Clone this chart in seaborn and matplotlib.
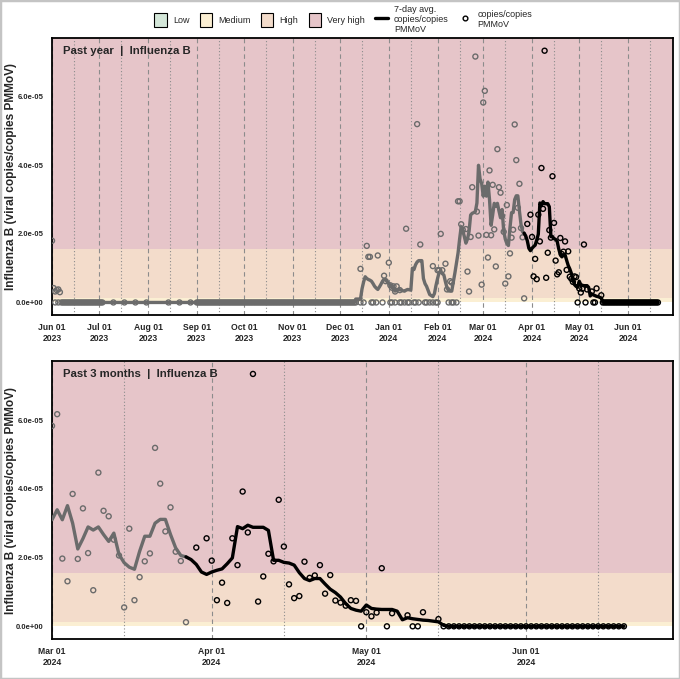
import matplotlib
matplotlib.use("Agg")
import matplotlib.pyplot as plt
import matplotlib.dates as mdates
from matplotlib.patches import Patch, Rectangle
from matplotlib.lines import Line2D
from matplotlib.ticker import FuncFormatter
import numpy as np
import pandas as pd
import seaborn as sns

sns.set_style("white")
plt.rcParams["font.family"] = ["Liberation Sans", "DejaVu Sans"]

# ---- data (values in 1e-5 copies/copies PMMoV) ----
# sampling periods where every sample read as zero
zero_spans = [("2023-06-07", "2023-07-03"),
              ("2023-09-01", "2023-12-11"),
              ("2024-05-16", "2024-06-20")]
zero_dates = ["2023-06-03", "2023-06-05",
              "2023-07-10", "2023-07-17", "2023-07-24", "2023-07-31",
              "2023-08-14", "2023-08-21", "2023-08-28",
              "2023-12-14", "2023-12-16", "2023-12-21", "2023-12-22", "2023-12-24",
              "2023-12-28", "2024-01-02", "2024-01-03", "2024-01-05", "2024-01-08",
              "2024-01-09", "2024-01-11", "2024-01-13", "2024-01-14", "2024-01-17",
              "2024-01-18", "2024-01-20", "2024-01-24", "2024-01-25", "2024-01-27",
              "2024-01-29", "2024-01-31", "2024-02-01", "2024-02-08", "2024-02-10",
              "2024-02-11", "2024-02-13",
              "2024-04-30", "2024-05-05", "2024-05-10", "2024-05-11"]

sample_dates = ["2023-06-01", "2023-06-02", "2023-06-03", "2023-06-04", "2023-06-05", "2023-06-06",
                "2023-12-14", "2023-12-18", "2023-12-19", "2023-12-20", "2023-12-25", "2023-12-29",
                "2023-12-30", "2024-01-01", "2024-01-02", "2024-01-03", "2024-01-04", "2024-01-05",
                "2024-01-06", "2024-01-08", "2024-01-12", "2024-01-19", "2024-01-21", "2024-01-29",
                "2024-02-01", "2024-02-02", "2024-02-03", "2024-02-04", "2024-02-06", "2024-02-07",
                "2024-02-09", "2024-02-10", "2024-02-14", "2024-02-15", "2024-02-16", "2024-02-17",
                "2024-02-19", "2024-02-20", "2024-02-21", "2024-02-22", "2024-02-23", "2024-02-25",
                "2024-02-26", "2024-02-27", "2024-02-29",
                "2024-03-01", "2024-03-02", "2024-03-03", "2024-03-04", "2024-03-05", "2024-03-06",
                "2024-03-07", "2024-03-08", "2024-03-09", "2024-03-10", "2024-03-11", "2024-03-12",
                "2024-03-13", "2024-03-14", "2024-03-15", "2024-03-16", "2024-03-17", "2024-03-18",
                "2024-03-19", "2024-03-20", "2024-03-21", "2024-03-22", "2024-03-23", "2024-03-24",
                "2024-03-25", "2024-03-26", "2024-03-27", "2024-03-29", "2024-03-31",
                "2024-04-01", "2024-04-02", "2024-04-03", "2024-04-04", "2024-04-05", "2024-04-06",
                "2024-04-07", "2024-04-08", "2024-04-09", "2024-04-10", "2024-04-11", "2024-04-12",
                "2024-04-13", "2024-04-14", "2024-04-15", "2024-04-16", "2024-04-17", "2024-04-18",
                "2024-04-19", "2024-04-20", "2024-04-21", "2024-04-22", "2024-04-23", "2024-04-24",
                "2024-04-25", "2024-04-26", "2024-04-27", "2024-04-28", "2024-04-29",
                "2024-05-01", "2024-05-02", "2024-05-03", "2024-05-04", "2024-05-06", "2024-05-09",
                "2024-05-12", "2024-05-15"]
sample_values = [1.8, 0.42, 0.32, 0.36, 0.38, 0.3,
                 0.98, 1.65, 1.33, 1.33, 1.37, 0.78,
                 0.62, 1.16, 0.5, 0.43, 0.47, 0.32,
                 0.47, 0.36, 2.15, 5.2, 1.69, 1.06,
                 0.94, 0.94, 2.0, 0.94, 1.13, 0.38,
                 0.62, 0.58, 2.95, 2.95, 2.28, 2.12,
                 2.14, 0.9, 0.32, 1.91, 3.36, 7.17,
                 2.65, 1.95, 0.52,
                 5.83, 6.17, 1.97, 1.31, 3.85, 1.96,
                 3.43, 2.13, 1.05, 4.47, 3.36, 3.2,
                 2.52, 2.06, 0.55, 2.84, 0.76, 1.43,
                 1.89, 2.12, 5.19, 4.15, 2.76, 3.46,
                 2.17, 1.9, 0.12, 2.29, 2.56,
                 1.91, 0.76, 1.27, 0.68, 2.56, 1.78,
                 3.92, 2.73, 7.34, 0.72, 1.45, 2.11,
                 1.89, 3.68, 2.32, 1.22, 0.82, 0.88,
                 1.88, 1.41, 1.48, 1.78, 0.95, 1.49,
                 0.75, 0.69, 0.6, 0.76, 0.74,
                 0.41, 0.29, 0.4, 1.69, 0.38, 0.32,
                 0.41, 0.21]

# 7-day average: flat zero until 2023-12-10, then daily from 2023-12-11
avg_flat_dates = ["2023-06-07", "2023-12-10"]
avg_start = "2023-12-11"
avg_values = [0.1, 0.1, 0.1, 0.1, 0.4, 0.6, 0.75, 0.7, 0.67, 0.65, 0.62, 0.55, 0.47, 0.42,
              0.38, 0.45, 0.53, 0.62, 0.68, 0.66, 0.6,
              0.55, 0.5, 0.45, 0.38, 0.33, 0.36, 0.38, 0.37, 0.36, 0.34, 0.33, 0.36, 0.38, 0.37,
              0.36, 1.0, 0.96, 1.1, 1.18, 1.22, 1.22, 1.22, 0.7, 0.55, 0.47, 0.35, 0.23, 0.2,
              0.17, 0.26, 0.5,
              0.7, 0.88, 0.91, 0.84, 0.8, 0.6, 0.43, 0.34, 0.33, 0.33, 0.6, 0.86, 1.15, 1.44,
              1.85, 2.21, 2.1, 1.92, 1.73, 1.85, 2.07, 2.55, 2.6, 2.62, 2.65, 2.9, 4.0, 3.6, 3.47,
              3.1, 3.39, 3.1, 3.51, 3.0, 2.25, 2.55, 2.89, 2.8, 2.89, 2.67, 2.47, 2.71, 2.09,
              1.85, 1.72, 1.66, 2.18, 2.62, 2.62, 3.0, 3.11, 3.11, 2.67, 2.28, 2.06, 2.02, 1.94,
              1.8, 1.58, 1.51,
              1.58, 1.63, 1.67, 1.82, 1.99, 2.9, 2.84, 2.94, 2.88, 2.88, 2.88, 2.79, 1.92, 1.92,
              1.86, 1.84, 1.78, 1.56, 1.39, 1.33, 1.39, 1.39, 1.23, 1.08, 0.98, 0.85, 0.66, 0.52,
              0.47, 0.44,
              0.62, 0.52, 0.5, 0.49, 0.49, 0.49, 0.44, 0.19, 0.25, 0.22, 0.2, 0.18, 0.17, 0.15,
              0.13, 0.03, 0.0]
avg_end_date = "2024-06-20"

recent_start = pd.Timestamp("2024-03-27")   # black = most recent period

# level thresholds (1e-5 units)
level_names = ["Low", "Medium", "High", "Very high"]
level_colors = ["#d4e7d9", "#fbefd3", "#f3dccb", "#e6c5c9"]
level_bounds = [0.0, 0.0, 0.12, 1.55, 7.71]

panels = [("Past year  |  Influenza B", "2023-06-01", "2024-06-29 12:00"),
          ("Past 3 months  |  Influenza B", "2024-03-01", "2024-06-29 12:00")]

# ---- assemble frames ----
zero_all = [pd.date_range(a, b, freq="D") for a, b in zero_spans]
zero_all.append(pd.to_datetime(zero_dates))
zero_idx = zero_all[0].append(zero_all[1:])
samples = pd.concat([
    pd.DataFrame({"date": zero_idx, "value": 0.0}),
    pd.DataFrame({"date": pd.to_datetime(sample_dates), "value": sample_values}),
]).sort_values("date")
samples["value"] = samples["value"] * 1e-5
samples["recent"] = samples["date"] > recent_start

avg = pd.concat([
    pd.DataFrame({"date": pd.to_datetime(avg_flat_dates), "value": [0.0, 0.0]}),
    pd.DataFrame({"date": pd.date_range(avg_start, periods=len(avg_values), freq="D"),
                  "value": avg_values}),
    pd.DataFrame({"date": [pd.Timestamp(avg_end_date)], "value": [0.0]}),
])
avg["value"] = avg["value"] * 1e-5
avg_old = avg[avg["date"] <= recent_start]
avg_new = avg[avg["date"] >= recent_start]

GRAY = "#6b6b6b"
fig = plt.figure(figsize=(6.8, 6.79), dpi=100)
axes = [fig.add_axes([0.0765, 0.536, 0.913, 0.408]),
        fig.add_axes([0.0765, 0.059, 0.913, 0.409])]

for ax, (title, x0, x1) in zip(axes, panels):
    x0, x1 = pd.Timestamp(x0), pd.Timestamp(x1)
    ymin, ymax = -0.367e-5, level_bounds[-1] * 1e-5
    for i in range(1, 4):
        ax.axhspan(level_bounds[i] * 1e-5, level_bounds[i + 1] * 1e-5,
                   color=level_colors[i], lw=0, zorder=0)

    months = pd.date_range(x0.replace(day=1), x1, freq="MS")
    for m in months:
        ax.axvline(m, color="#8c8c8c", lw=0.8, ls=(0, (4, 3)), zorder=1)
        ax.axvline(m + pd.Timedelta(days=14), color="#8c8c8c", lw=0.8, ls=(0, (1, 2)), zorder=1)

    sns.lineplot(data=avg_old, x="date", y="value", color=GRAY, lw=2.4, ax=ax, zorder=3)
    sns.lineplot(data=avg_new, x="date", y="value", color="black", lw=2.4, ax=ax, zorder=4)
    old = samples[~samples["recent"]]
    new = samples[samples["recent"]]
    sns.scatterplot(data=old, x="date", y="value", marker="o", s=13, facecolor="none",
                    edgecolor=GRAY, linewidth=1.0, ax=ax, zorder=3)
    sns.scatterplot(data=new, x="date", y="value", marker="o", s=13, facecolor="none",
                    edgecolor="black", linewidth=1.0, ax=ax, zorder=5)

    ax.set_xlim(x0, x1)
    ax.set_ylim(ymin, ymax)
    ax.set_xticks(months)
    ax.xaxis.set_major_formatter(mdates.DateFormatter("%b %d\n%Y"))
    ax.set_yticks([0, 2e-5, 4e-5, 6e-5])
    ax.yaxis.set_major_formatter(FuncFormatter(lambda v, p: "%.1e" % v))
    ax.tick_params(axis="both", length=3, width=0.8, color="black", pad=3)
    ax.tick_params(axis="x", labelsize=6.2)
    ax.tick_params(axis="y", labelsize=5.5)
    for lab in ax.get_xticklabels() + ax.get_yticklabels():
        lab.set_fontweight("bold")
    ax.set_xlabel("")
    ax.set_ylabel("Influenza B (viral copies/copies PMMoV)", fontsize=8.6, fontweight="bold")
    ax.yaxis.set_label_coords(-0.056, 0.5)
    for sp in ax.spines.values():
        sp.set_color("black")
        sp.set_linewidth(1.3)
    ax.text(0.018, 0.972, title, transform=ax.transAxes, fontsize=8.2,
            fontweight="bold", ha="left", va="top", zorder=6)

handles = [Patch(facecolor=c, edgecolor="black", lw=0.8) for c in level_colors]
handles.append(Line2D([], [], color="black", lw=2.4))
handles.append(Line2D([], [], color="none", marker="o", markersize=3.4,
                      markerfacecolor="none", markeredgecolor="black", markeredgewidth=1.0))
labels = level_names + ["7-day avg.\ncopies/copies\nPMMoV", "copies/copies\nPMMoV"]
fig.legend(handles, labels, loc="upper center", bbox_to_anchor=(0.505, 1.004), ncol=6,
           frameon=False, fontsize=6.5, handlelength=1.35, handleheight=2.1,
           columnspacing=1.15, handletextpad=0.7, borderpad=0.3)

fig.patches.append(Rectangle((0, 0), 1, 1, transform=fig.transFigure, fill=False,
                             edgecolor="#c4c4c4", lw=2.5))
fig.savefig("out.png", dpi=100)
